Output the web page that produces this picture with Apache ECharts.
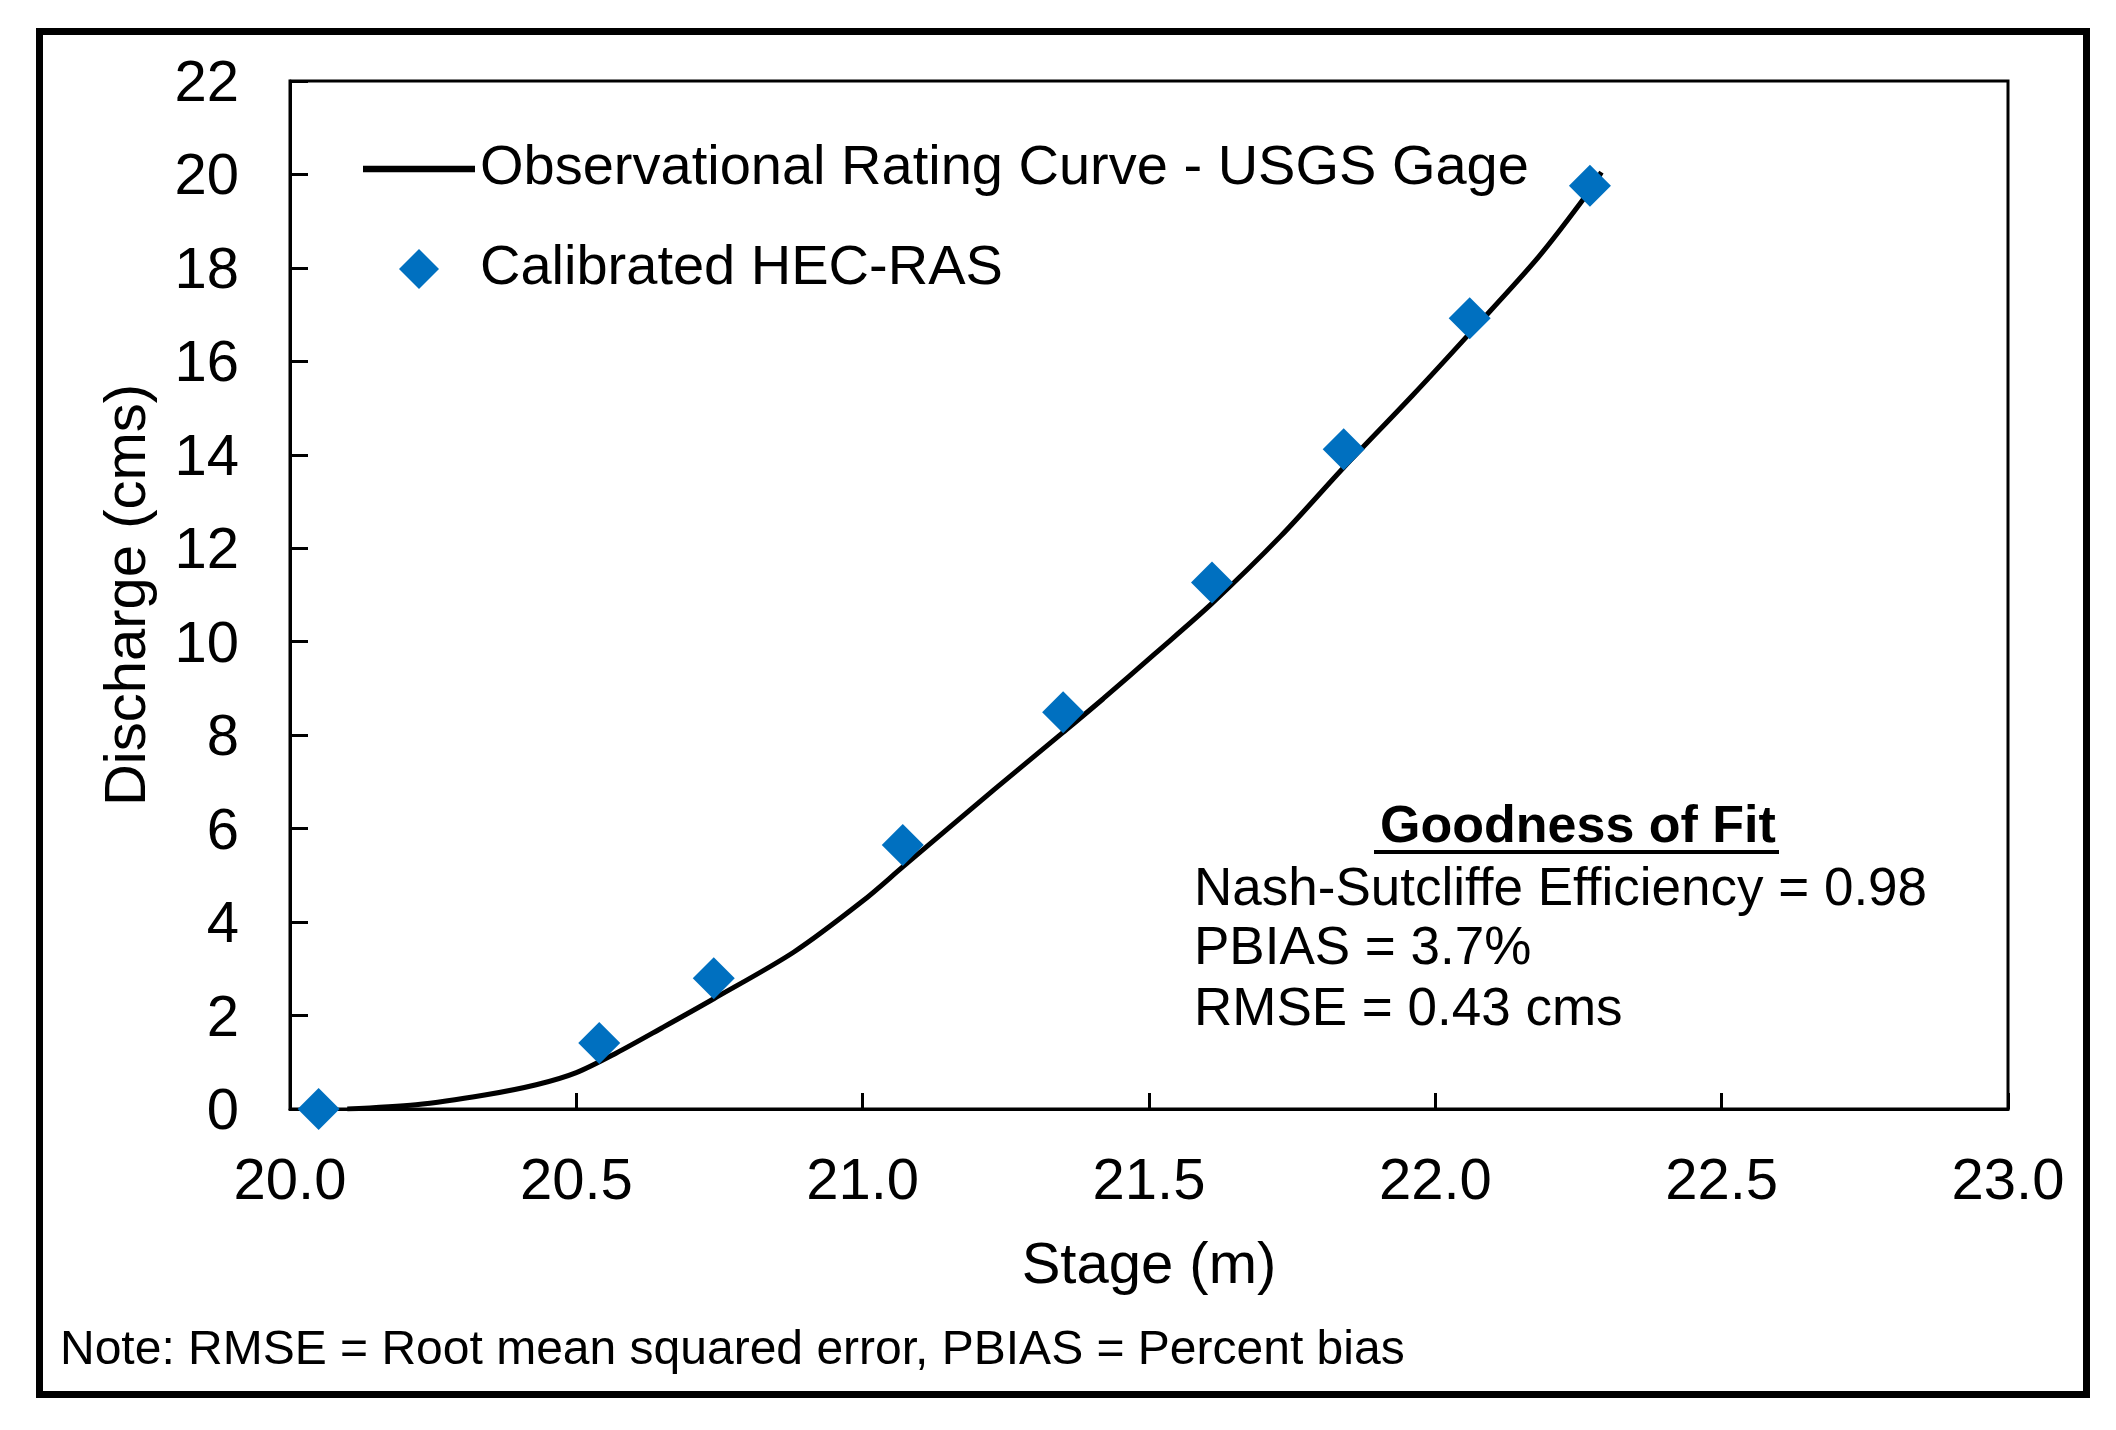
<!DOCTYPE html>
<html>
<head>
<meta charset="utf-8">
<script src="https://cdn.jsdelivr.net/npm/echarts@6/dist/echarts.min.js"></script>
<style>
html,body{margin:0;padding:0;background:#fff;}
#chart{width:2116px;height:1430px;}
</style>
</head>
<body>
<div id="chart"></div>
<script>
// Observational rating curve (USGS gage): stage (m) vs discharge (cms)
const curveStage = [20.10, 20.22, 20.34, 20.43, 20.50, 20.57, 20.65, 20.74, 20.88, 21.00, 21.07, 21.23, 21.35, 21.42, 21.51, 21.61, 21.73, 21.84, 21.96, 22.06, 22.18, 22.27, 22.29];
const curveDischarge = [0.00, 0.09, 0.30, 0.52, 0.78, 1.20, 1.74, 2.36, 3.36, 4.45, 5.18, 6.84, 8.06, 8.78, 9.74, 10.82, 12.26, 13.73, 15.27, 16.60, 18.23, 19.66, 20.05];
// Calibrated HEC-RAS points
const hecStage = [20.05, 20.54, 20.74, 21.07, 21.35, 21.61, 21.84, 22.06, 22.27];
const hecDischarge = [0.00, 1.41, 2.80, 5.65, 8.49, 11.27, 14.12, 16.92, 19.76];

const seriesNames = ['Observational Rating Curve - USGS Gage', 'Calibrated HEC-RAS'];
const xAxisTitle = 'Stage (m)';
const yAxisTitle = 'Discharge (cms)';
const fitTitle = 'Goodness of Fit';
const fitLines = ['Nash-Sutcliffe Efficiency = 0.98', 'PBIAS = 3.7%', 'RMSE = 0.43 cms'];
const noteText = 'Note: RMSE = Root mean squared error, PBIAS = Percent bias';

const FONT = '"Liberation Sans", Arial, sans-serif';
const BLUE = '#0070C0';

const chart = echarts.init(document.getElementById('chart'), null, {renderer: 'canvas'});
const option = {
  backgroundColor: '#ffffff',
  animation: false,
  grid: {
    left: 290, top: 81, width: 1718, height: 1028,
    show: true, borderColor: '#000', borderWidth: 3, backgroundColor: 'transparent'
  },
  legend: {
    orient: 'vertical',
    left: 358, top: 134,
    itemWidth: 112, itemHeight: 40, itemGap: 40,
    symbolKeepAspect: true,
    textStyle: {fontFamily: FONT, fontSize: 56, color: '#000', lineHeight: 60},
    data: [
      {name: seriesNames[0], icon: 'path://M0,0H104V6H0Z', itemStyle: {color: '#000', borderWidth: 0}},
      {name: seriesNames[1], icon: 'path://M0,-1L1,0L0,1L-1,0Z', itemStyle: {color: BLUE, opacity: 1, borderWidth: 0}}
    ]
  },
  xAxis: {
    type: 'value', min: 20, max: 23, interval: 0.5,
    name: xAxisTitle, nameLocation: 'middle', nameGap: 129,
    nameTextStyle: {fontFamily: FONT, fontSize: 58, color: '#000'},
    axisLine: {show: true, onZero: false, lineStyle: {color: '#000', width: 3}},
    axisTick: {show: true, inside: true, length: 16, lineStyle: {color: '#000', width: 3}},
    axisLabel: {fontFamily: FONT, fontSize: 58, color: '#000', margin: 45,
      formatter: v => v.toFixed(1)},
    splitLine: {show: false}
  },
  yAxis: {
    type: 'value', min: 0, max: 22, interval: 2,
    name: yAxisTitle, nameLocation: 'middle', nameGap: 132, nameRotate: 90,
    nameTextStyle: {fontFamily: FONT, fontSize: 58, color: '#000'},
    axisLine: {show: true, onZero: false, lineStyle: {color: '#000', width: 3}},
    axisTick: {show: true, inside: true, length: 18, lineStyle: {color: '#000', width: 3}},
    axisLabel: {
      color: '#000', margin: 51,
      formatter: v => '{v|' + v + '}',
      rich: {v: {fontFamily: FONT, fontSize: 58, color: '#000', padding: [8, 0, 0, 0]}}
    },
    splitLine: {show: false}
  },
  series: [
    {
      name: seriesNames[0], type: 'line',
      data: curveStage.map((x, i) => [x, curveDischarge[i]]),
      symbol: 'none', showSymbol: false, smooth: 0.3,
      lineStyle: {color: '#000', width: 5},
      itemStyle: {color: '#000'},
      z: 2
    },
    {
      name: seriesNames[1], type: 'scatter',
      data: hecStage.map((x, i) => [x, hecDischarge[i]]),
      symbol: 'diamond', symbolSize: 42,
      itemStyle: {color: BLUE, opacity: 1},
      clip: false,
      z: 3
    }
  ],
  graphic: [
    {type: 'rect', shape: {x: 39.5, y: 31.5, width: 2047, height: 1363},
     style: {fill: 'none', stroke: '#000', lineWidth: 7}, silent: true},
    {type: 'text', x: 1578, y: 828,
     style: {text: fitTitle, font: 'bold 52px ' + FONT, fill: '#000', align: 'center', verticalAlign: 'middle'}},
    {type: 'line', shape: {x1: 1374, y1: 852, x2: 1779, y2: 852},
     style: {stroke: '#000', lineWidth: 4}},
    {type: 'text', x: 1194, y: 890,
     style: {text: fitLines[0], font: '53px ' + FONT, fill: '#000', align: 'left', verticalAlign: 'middle'}},
    {type: 'text', x: 1194, y: 949,
     style: {text: fitLines[1], font: '53px ' + FONT, fill: '#000', align: 'left', verticalAlign: 'middle'}},
    {type: 'text', x: 1194, y: 1010,
     style: {text: fitLines[2], font: '53px ' + FONT, fill: '#000', align: 'left', verticalAlign: 'middle'}},
    {type: 'text', x: 60, y: 1351,
     style: {text: noteText, font: '48px ' + FONT, fill: '#000', align: 'left', verticalAlign: 'middle'}}
  ]
};
chart.setOption(option);
</script>
</body>
</html>
